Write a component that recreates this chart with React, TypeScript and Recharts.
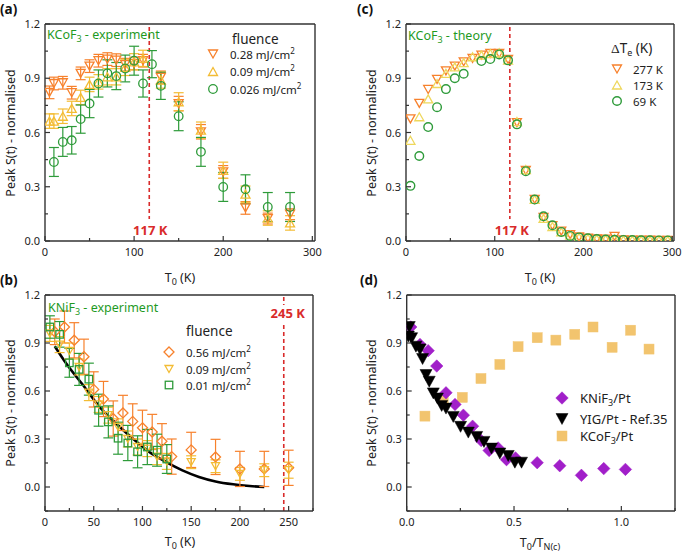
import React from 'react';
import { ComposedChart, Scatter, Line, XAxis, YAxis, ErrorBar, ReferenceLine } from 'recharts';

const FONT = '"Noto Sans", "DejaVu Sans", sans-serif';
const ORANGE = '#F7812C';
const YELLOW = '#F3BC34';
const PALE_YELLOW = '#EED75C';
const GREEN = '#2E9B3A';
const TEXT_GREEN = '#1F9A1F';
const RED = '#D92B2B';
const PURPLE = '#A11FC9';
const TAN = '#F2C46E';
const AXIS = '#333';
const INK = '#222';

// ---------- Panel (a): KCoF3 experiment ----------
const aT028 = [5, 10, 20, 30, 40, 50, 60, 70, 80, 90, 100, 110, 130, 150, 175, 200, 225, 250, 275];
const aS028 = [0.822, 0.871, 0.875, 0.82, 0.927, 0.967, 0.997, 1.006, 1.0, 0.975, 0.982, 0.997, 0.905, 0.76, 0.604, 0.382, 0.183, 0.124, 0.148];
const aE028 = [0.035, 0.035, 0.035, 0.035, 0.035, 0.035, 0.035, 0.035, 0.035, 0.035, 0.035, 0.035, 0.035, 0.04, 0.04, 0.035, 0.035, 0.03, 0.03];
const aT009 = [5, 10, 20, 30, 40, 50, 60, 70, 80, 90, 100, 110, 130, 150, 175, 200, 225, 250, 275];
const aS009 = [0.663, 0.663, 0.69, 0.733, 0.794, 0.866, 0.88, 0.908, 0.908, 0.96, 0.991, 1.01, 0.89, 0.77, 0.613, 0.391, 0.259, 0.127, 0.1];
const aE009 = [0.04, 0.04, 0.04, 0.04, 0.04, 0.04, 0.04, 0.045, 0.045, 0.045, 0.045, 0.045, 0.045, 0.05, 0.045, 0.045, 0.045, 0.04, 0.04];
const aT0026 = [10, 20, 30, 40, 50, 60, 70, 80, 90, 100, 110, 120, 130, 150, 175, 200, 225, 250, 275];
const aS0026 = [0.437, 0.548, 0.557, 0.674, 0.76, 0.871, 0.927, 0.912, 0.954, 0.997, 0.871, 0.978, 0.858, 0.69, 0.493, 0.299, 0.286, 0.188, 0.188];
const aE0026 = [0.08, 0.08, 0.076, 0.078, 0.078, 0.075, 0.075, 0.075, 0.074, 0.08, 0.075, 0.075, 0.075, 0.08, 0.08, 0.08, 0.08, 0.08, 0.08];

// ---------- Panel (c): KCoF3 theory ----------
const cT = [5, 15, 25, 35, 45, 55, 65, 75, 85, 95, 105, 115, 125, 135, 145, 155, 165, 175, 185, 195, 205, 215, 225, 235, 245, 255, 265, 275, 285, 295];
const c277 = [0.675, 0.761, 0.838, 0.894, 0.941, 0.967, 0.991, 1.01, 1.028, 1.037, 1.037, 1.004, 0.655, 0.39, 0.23, 0.13, 0.085, 0.055, 0.035, 0.022, 0.016, 0.012, 0.01, 0.026, 0.006, 0.005, 0.005, 0.005, 0.004, 0.004];
const c173 = [0.557, 0.687, 0.786, 0.871, 0.927, 0.963, 0.986, 1.019, 1.028, 1.037, 1.041, 1.0, 0.66, 0.395, 0.23, 0.125, 0.08, 0.05, 0.033, 0.02, 0.015, 0.012, 0.01, 0.012, 0.006, 0.005, 0.005, 0.004, 0.004, 0.004];
const cT69 = [5, 15, 25, 35, 45, 55, 65, 85, 95, 105, 115, 125, 135, 145, 155, 165, 175, 185, 195, 205, 215, 225, 235, 245, 255, 265, 275, 285, 295];
const c69 = [0.305, 0.47, 0.63, 0.74, 0.84, 0.9, 0.925, 0.995, 1.006, 1.032, 0.999, 0.645, 0.386, 0.229, 0.137, 0.087, 0.05, 0.028, 0.02, 0.015, 0.011, 0.008, 0.007, 0.006, 0.005, 0.004, 0.004, 0.003, 0.003];

// ---------- Panel (b): KNiF3 experiment ----------
const bT056 = [10, 20, 30, 40, 50, 60, 70, 80, 90, 100, 110, 120, 130, 150, 175, 200, 225, 250];
const bS056 = [0.97, 1.0, 0.917, 0.814, 0.61, 0.55, 0.428, 0.463, 0.41, 0.37, 0.344, 0.286, 0.19, 0.232, 0.188, 0.113, 0.113, 0.12];
const bE056 = [0.08, 0.1, 0.11, 0.11, 0.11, 0.11, 0.11, 0.11, 0.11, 0.11, 0.11, 0.11, 0.11, 0.11, 0.11, 0.11, 0.11, 0.11];
const bT009 = [5, 15, 25, 35, 45, 55, 65, 75, 85, 95, 105, 115, 125, 150, 175, 200, 225, 250];
const bS009 = [0.96, 0.89, 0.85, 0.75, 0.59, 0.516, 0.449, 0.376, 0.3, 0.25, 0.24, 0.19, 0.16, 0.155, 0.13, 0.082, 0.105, 0.105];
const bE009 = [0.05, 0.05, 0.05, 0.05, 0.05, 0.05, 0.05, 0.05, 0.05, 0.05, 0.05, 0.05, 0.05, 0.04, 0.04, 0.04, 0.04, 0.05];
const bT001 = [5, 15, 25, 35, 45, 55, 65, 75, 85, 95, 105, 115, 125];
const bS001 = [1.0, 0.954, 0.776, 0.735, 0.674, 0.48, 0.407, 0.305, 0.275, 0.22, 0.25, 0.23, 0.175];
const bE001 = [0.07, 0.08, 0.09, 0.1, 0.1, 0.1, 0.1, 0.1, 0.11, 0.1, 0.11, 0.1, 0.09];
const bCurveT = [10, 22, 39, 56, 73, 90, 107, 124, 141, 158, 175, 193, 210, 225];
const bCurveS = [0.88, 0.77, 0.637, 0.5, 0.397, 0.303, 0.219, 0.157, 0.104, 0.063, 0.035, 0.017, 0.006, 0.0];

// ---------- Panel (d): comparison ----------
const dNiX = [0.019, 0.062, 0.1, 0.14, 0.183, 0.225, 0.264, 0.307, 0.347, 0.384, 0.426, 0.465, 0.507, 0.608, 0.713, 0.814, 0.918, 1.019];
const dNiY = [1.0, 0.891, 0.852, 0.756, 0.589, 0.516, 0.449, 0.38, 0.29, 0.228, 0.244, 0.171, 0.182, 0.152, 0.133, 0.073, 0.115, 0.11];
const dYigX = [0.008, 0.012, 0.023, 0.043, 0.062, 0.074, 0.09, 0.105, 0.124, 0.143, 0.163, 0.183, 0.217, 0.251, 0.287, 0.326, 0.36, 0.395, 0.434, 0.473, 0.504, 0.535];
const dYigY = [0.94, 1.0, 0.93, 0.877, 0.86, 0.8, 0.7, 0.658, 0.585, 0.553, 0.507, 0.49, 0.438, 0.376, 0.34, 0.313, 0.282, 0.24, 0.209, 0.194, 0.152, 0.152];
const dCoX = [0.085, 0.17, 0.259, 0.346, 0.434, 0.519, 0.608, 0.695, 0.783, 0.868, 0.957, 1.043, 1.129];
const dCoY = [0.443, 0.553, 0.56, 0.678, 0.766, 0.877, 0.933, 0.918, 0.954, 1.0, 0.873, 0.98, 0.862];

// ---------- ticks ----------
const yTicksA = [0, 0.15, 0.3, 0.45, 0.6, 0.75, 0.9, 1.05, 1.2];
const yTicksB = [-0.15, 0, 0.15, 0.3, 0.45, 0.6, 0.75, 0.9, 1.05, 1.2];
const yMajor = [0, 0.3, 0.6, 0.9, 1.2];
const xTicksA = [0, 50, 100, 150, 200, 250, 300];
const xMajorA = [0, 100, 200, 300];
const xTicksB = [0, 25, 50, 75, 100, 125, 150, 175, 200, 225, 250, 275];
const xMajorB = [0, 50, 100, 150, 200, 250];
const xTicksD = [0, 0.25, 0.5, 0.75, 1.0, 1.25];
const xMajorD = [0, 0.5, 1.0];

const pts = (xs: number[], ys: number[], es?: number[]) =>
  xs.map((x, i) => ({ x, y: ys[i], e: es ? es[i] : 0 }));

const isIn = (arr: number[], v: number) => arr.some((m) => Math.abs(m - v) < 1e-6);

// ---------- marker shapes ----------
const triDown = (cx: number, cy: number, w: number, h: number, color: string, fill: string, sw: number) => (
  <polygon points={`${cx - w / 2},${cy - h / 2} ${cx + w / 2},${cy - h / 2} ${cx},${cy + h / 2}`} fill={fill} stroke={color} strokeWidth={sw} />
);
const triUp = (cx: number, cy: number, w: number, h: number, color: string, fill: string, sw: number) => (
  <polygon points={`${cx - w / 2},${cy + h / 2} ${cx + w / 2},${cy + h / 2} ${cx},${cy - h / 2}`} fill={fill} stroke={color} strokeWidth={sw} />
);
const circ = (cx: number, cy: number, r: number, color: string, fill: string, sw: number) => (
  <circle cx={cx} cy={cy} r={r} fill={fill} stroke={color} strokeWidth={sw} />
);
const diamond = (cx: number, cy: number, s: number, color: string, fill: string, sw: number) => (
  <polygon points={`${cx},${cy - s / 2} ${cx + s / 2},${cy} ${cx},${cy + s / 2} ${cx - s / 2},${cy}`} fill={fill} stroke={color} strokeWidth={sw} />
);
const square = (cx: number, cy: number, s: number, color: string, fill: string, sw: number) => (
  <rect x={cx - s / 2} y={cy - s / 2} width={s} height={s} fill={fill} stroke={color} strokeWidth={sw} />
);

// ---------- ticks renderers ----------
const makeYTick = (majors: number[]) => (props: any) => {
  const { x, y, payload } = props;
  const v = payload.value;
  const major = isIn(majors, v);
  return (
    <g>
      <line x1={x} x2={x + (major ? 5 : 3)} y1={y} y2={y} stroke={AXIS} strokeWidth={1.2} />
      {major && (
        <text x={x - 5} y={y + 4} textAnchor="end" fontSize={11} fill={INK} fontFamily={FONT}>
          {v.toFixed(1)}
        </text>
      )}
    </g>
  );
};
const makeXTick = (majors: number[], fmt: (v: number) => string) => (props: any) => {
  const { x, y, payload } = props;
  const v = payload.value;
  const major = isIn(majors, v);
  return (
    <g>
      <line x1={x} x2={x} y1={y} y2={y - (major ? 5 : 3)} stroke={AXIS} strokeWidth={1.2} />
      {major && (
        <text x={x} y={y + 15} textAnchor="middle" fontSize={11} fill={INK} fontFamily={FONT}>
          {fmt(v)}
        </text>
      )}
    </g>
  );
};

const refLabel = (text: string, pos: 'top' | 'bottom', dx: number) => (props: any) => {
  const vb = props.viewBox || { x: 0, y: 0, width: 0, height: 0 };
  const lx = vb.x + dx;
  if (pos === 'bottom') {
    const bottom = vb.y + vb.height;
    return (
      <g>
        <rect x={lx - 20} y={bottom - 22} width={40} height={24} fill="#fff" />
        <text x={lx} y={bottom - 6.5} textAnchor="middle" fontWeight="bold" fontSize={13} fill={RED} fontFamily={FONT}>
          {text}
        </text>
      </g>
    );
  }
  const top = vb.y;
  return (
    <g>
      <rect x={lx - 19} y={top + 10} width={38} height={17} fill="#fff" />
      <text x={lx} y={top + 23} textAnchor="middle" fontWeight="bold" fontSize={13} fill={RED} fontFamily={FONT}>
        {text}
      </text>
    </g>
  );
};

function frameAxes() {
  return [
    <XAxis key="tx" xAxisId="t" orientation="top" type="number" domain={[0, 1]} height={1} tick={false} tickLine={false} axisLine={{ stroke: AXIS, strokeWidth: 1.4 }} />,
    <YAxis key="ry" yAxisId="r" orientation="right" type="number" domain={[0, 1]} width={1} tick={false} tickLine={false} axisLine={{ stroke: AXIS, strokeWidth: 1.4 }} />,
  ];
}

const axisLineStyle = { stroke: AXIS, strokeWidth: 1.4 };

function ChartA() {
  return (
    <ComposedChart width={345} height={275} margin={{ top: 23, right: 29, bottom: 33, left: 44 }} style={{ fontFamily: FONT }}>
      <XAxis dataKey="x" type="number" domain={[0, 303]} allowDataOverflow ticks={xTicksA} interval={0} height={1} tickSize={0} tickMargin={0} tickLine={false} axisLine={axisLineStyle} tick={makeXTick(xMajorA, (v) => String(v))} />
      <YAxis dataKey="y" type="number" domain={[0, 1.2]} allowDataOverflow ticks={yTicksA} interval={0} width={1} tickSize={0} tickMargin={0} tickLine={false} axisLine={axisLineStyle} tick={makeYTick(yMajor)} />
      {frameAxes()}
      <ReferenceLine x={117} stroke={RED} strokeWidth={1.6} strokeDasharray="4 3" label={refLabel('117 K', 'bottom', 1)} />
      <Scatter data={pts(aT028, aS028, aE028)} dataKey="y" isAnimationActive={false} shape={(p: any) => triDown(p.cx, p.cy, 9, 8, ORANGE, 'none', 1.3)}>
        <ErrorBar dataKey="e" direction="y" width={5} stroke={ORANGE} strokeWidth={1.2} />
      </Scatter>
      <Scatter data={pts(aT009, aS009, aE009)} dataKey="y" isAnimationActive={false} shape={(p: any) => triUp(p.cx, p.cy, 9, 8, YELLOW, 'none', 1.3)}>
        <ErrorBar dataKey="e" direction="y" width={5} stroke={YELLOW} strokeWidth={1.2} />
      </Scatter>
      <Scatter data={pts(aT0026, aS0026, aE0026)} dataKey="y" isAnimationActive={false} shape={(p: any) => circ(p.cx, p.cy, 4.3, GREEN, 'none', 1.3)}>
        <ErrorBar dataKey="e" direction="y" width={5} stroke={GREEN} strokeWidth={1.2} />
      </Scatter>
    </ComposedChart>
  );
}

function ChartC() {
  return (
    <ComposedChart width={345} height={275} margin={{ top: 23, right: 10, bottom: 33, left: 65 }} style={{ fontFamily: FONT }}>
      <XAxis dataKey="x" type="number" domain={[0, 302]} allowDataOverflow ticks={xTicksA} interval={0} height={1} tickSize={0} tickMargin={0} tickLine={false} axisLine={axisLineStyle} tick={makeXTick(xMajorA, (v) => String(v))} />
      <YAxis dataKey="y" type="number" domain={[0, 1.2]} allowDataOverflow ticks={yTicksA} interval={0} width={1} tickSize={0} tickMargin={0} tickLine={false} axisLine={axisLineStyle} tick={makeYTick(yMajor)} />
      {frameAxes()}
      <ReferenceLine x={117} stroke={RED} strokeWidth={1.6} strokeDasharray="4 3" label={refLabel('117 K', 'bottom', 2)} />
      <Scatter data={pts(cT, c277)} dataKey="y" isAnimationActive={false} shape={(p: any) => triDown(p.cx, p.cy, 9, 8, ORANGE, 'none', 1.3)} />
      <Scatter data={pts(cT, c173)} dataKey="y" isAnimationActive={false} shape={(p: any) => triUp(p.cx, p.cy, 9, 8, PALE_YELLOW, 'none', 1.3)} />
      <Scatter data={pts(cT69, c69)} dataKey="y" isAnimationActive={false} shape={(p: any) => circ(p.cx, p.cy, 4.3, GREEN, 'none', 1.4)} />
    </ComposedChart>
  );
}

function ChartB() {
  return (
    <ComposedChart width={345} height={279} margin={{ top: 19, right: 31, bottom: 42, left: 44 }} style={{ fontFamily: FONT }}>
      <XAxis dataKey="x" type="number" domain={[0, 275]} allowDataOverflow ticks={xTicksB} interval={0} height={1} tickSize={0} tickMargin={0} tickLine={false} axisLine={axisLineStyle} tick={makeXTick(xMajorB, (v) => String(v))} />
      <YAxis dataKey="y" type="number" domain={[-0.15, 1.2]} allowDataOverflow ticks={yTicksB} interval={0} width={1} tickSize={0} tickMargin={0} tickLine={false} axisLine={axisLineStyle} tick={makeYTick(yMajor)} />
      {frameAxes()}
      <ReferenceLine x={245} stroke={RED} strokeWidth={1.6} strokeDasharray="4 3" label={refLabel('245 K', 'top', 4)} />
      <Line data={pts(bCurveT, bCurveS)} dataKey="y" type="monotone" stroke="#000" strokeWidth={2.6} dot={false} isAnimationActive={false} />
      <Scatter data={pts(bT056, bS056, bE056)} dataKey="y" isAnimationActive={false} shape={(p: any) => diamond(p.cx, p.cy, 10, ORANGE, 'none', 1.3)}>
        <ErrorBar dataKey="e" direction="y" width={5} stroke={ORANGE} strokeWidth={1.2} />
      </Scatter>
      <Scatter data={pts(bT009, bS009, bE009)} dataKey="y" isAnimationActive={false} shape={(p: any) => triDown(p.cx, p.cy, 8, 7, YELLOW, 'none', 1.3)}>
        <ErrorBar dataKey="e" direction="y" width={5} stroke={YELLOW} strokeWidth={1.2} />
      </Scatter>
      <Scatter data={pts(bT001, bS001, bE001)} dataKey="y" isAnimationActive={false} shape={(p: any) => square(p.cx, p.cy, 7.5, GREEN, 'none', 1.3)}>
        <ErrorBar dataKey="e" direction="y" width={5} stroke={GREEN} strokeWidth={1.2} />
      </Scatter>
    </ComposedChart>
  );
}

function ChartD() {
  return (
    <ComposedChart width={345} height={279} margin={{ top: 19, right: 9, bottom: 42, left: 65.7 }} style={{ fontFamily: FONT }}>
      <XAxis dataKey="x" type="number" domain={[0, 1.25]} allowDataOverflow ticks={xTicksD} interval={0} height={1} tickSize={0} tickMargin={0} tickLine={false} axisLine={axisLineStyle} tick={makeXTick(xMajorD, (v) => v.toFixed(1))} />
      <YAxis dataKey="y" type="number" domain={[-0.15, 1.2]} allowDataOverflow ticks={yTicksB} interval={0} width={1} tickSize={0} tickMargin={0} tickLine={false} axisLine={axisLineStyle} tick={makeYTick(yMajor)} />
      {frameAxes()}
      <Scatter data={pts(dCoX, dCoY)} dataKey="y" isAnimationActive={false} shape={(p: any) => square(p.cx, p.cy, 10, TAN, TAN, 0.5)} />
      <Scatter data={pts(dNiX, dNiY)} dataKey="y" isAnimationActive={false} shape={(p: any) => diamond(p.cx, p.cy, 12.5, PURPLE, PURPLE, 0.5)} />
      <Scatter data={pts(dYigX, dYigY)} dataKey="y" isAnimationActive={false} shape={(p: any) => triDown(p.cx, p.cy, 12, 11, '#000', '#000', 0.5)} />
    </ComposedChart>
  );
}

const T0 = (x: number, y: number) => (
  <text x={x} y={y} textAnchor="middle" fontSize={12.5} fill={INK} fontFamily={FONT}>
    T<tspan fontSize={9} dy={3}>0</tspan>
    <tspan dy={-3}> (K)</tspan>
  </text>
);

const YTitle = ({ cx, cy }: { cx: number; cy: number }) => (
  <text x={cx} y={cy} transform={`rotate(-90 ${cx} ${cy})`} textAnchor="middle" dominantBaseline="central" fontSize={12.5} fill={INK} fontFamily={FONT}>
    Peak S(t) - normalised
  </text>
);

const LegText = ({ x, y, children, size = 11.5 }: any) => (
  <text x={x} y={y} fontSize={size} fill={INK} fontFamily={FONT}>
    {children}
  </text>
);

const mJ = (v: string) => (
  <>
    {v} mJ/cm<tspan fontSize={8} dy={-5}>2</tspan>
  </>
);

function Overlay() {
  return (
    <svg width={685} height={554} style={{ position: 'absolute', left: 0, top: 0, pointerEvents: 'none' }}>
      {/* panel letters */}
      <text x={0} y={13.5} fontWeight="bold" fontSize={13.5} fill="#111" fontFamily={FONT}>(a)</text>
      <text x={357} y={13.5} fontWeight="bold" fontSize={13.5} fill="#111" fontFamily={FONT}>(c)</text>
      <text x={0} y={285} fontWeight="bold" fontSize={13.5} fill="#111" fontFamily={FONT}>(b)</text>
      <text x={360} y={285} fontWeight="bold" fontSize={13.5} fill="#111" fontFamily={FONT}>(d)</text>

      {/* axis titles */}
      <YTitle cx={10} cy={133} />
      <YTitle cx={371.5} cy={133} />
      <YTitle cx={10} cy={403} />
      <YTitle cx={371.5} cy={403} />
      {T0(180, 282)}
      {T0(540, 282)}
      {T0(180, 546)}
      <text x={540} y={547} textAnchor="middle" fontSize={12.5} fill={INK} fontFamily={FONT}>
        T<tspan fontSize={9} dy={3}>0</tspan>
        <tspan dy={-3}>/T</tspan>
        <tspan fontSize={9} dy={3}>N(c)</tspan>
      </text>

      {/* green titles */}
      <text x={47} y={38.5} fontSize={12.5} fill={TEXT_GREEN} fontFamily={FONT}>
        KCoF<tspan fontSize={9} dy={3}>3</tspan>
        <tspan dy={-3}> - experiment</tspan>
      </text>
      <text x={408} y={40} fontSize={12.5} fill={TEXT_GREEN} fontFamily={FONT}>
        KCoF<tspan fontSize={9} dy={3}>3</tspan>
        <tspan dy={-3}> - theory</tspan>
      </text>
      <text x={48} y={312} fontSize={12.5} fill={TEXT_GREEN} fontFamily={FONT}>
        KNiF<tspan fontSize={9} dy={3}>3</tspan>
        <tspan dy={-3}> - experiment</tspan>
      </text>

      {/* legend (a) */}
      <LegText x={232} y={44} size={13.5}>fluence</LegText>
      {triDown(213, 54, 9, 8, ORANGE, 'none', 1.3)}
      {triUp(213, 71.5, 9, 8, YELLOW, 'none', 1.3)}
      {circ(213, 89, 4.3, GREEN, 'none', 1.3)}
      <LegText x={230} y={58.5}>{mJ('0.28')}</LegText>
      <LegText x={230} y={76}>{mJ('0.09')}</LegText>
      <LegText x={230} y={93.5}>{mJ('0.026')}</LegText>

      {/* legend (c) */}
      <text x={611} y={53} fontSize={13.5} fill={INK} fontFamily={FONT}>
        <tspan fontFamily='"Liberation Serif", serif'>Δ</tspan>T<tspan fontSize={9} dy={3}>e</tspan>
        <tspan dy={-3}> (K)</tspan>
      </text>
      {triDown(617, 69, 9, 8, ORANGE, 'none', 1.3)}
      {triUp(617, 85, 9, 8, PALE_YELLOW, 'none', 1.3)}
      {circ(617, 101, 4.3, GREEN, 'none', 1.4)}
      <LegText x={633} y={73.5}>277 K</LegText>
      <LegText x={633} y={89.5}>173 K</LegText>
      <LegText x={633} y={105.5}>69 K</LegText>

      {/* legend (b) */}
      <LegText x={186} y={336} size={13.5}>fluence</LegText>
      {diamond(169, 352, 10, ORANGE, 'none', 1.3)}
      {triDown(169, 369, 8, 7, YELLOW, 'none', 1.3)}
      {square(169, 385, 7.5, GREEN, 'none', 1.3)}
      <LegText x={186} y={356.5}>{mJ('0.56')}</LegText>
      <LegText x={186} y={373.5}>{mJ('0.09')}</LegText>
      <LegText x={186} y={389.5}>{mJ('0.01')}</LegText>

      {/* legend (d) */}
      {diamond(562, 398, 12.5, PURPLE, PURPLE, 0.5)}
      {triDown(562, 419, 12, 11, '#000', '#000', 0.5)}
      {square(562, 436, 10, TAN, TAN, 0.5)}
      <text x={580} y={402.5} fontSize={13} fill={INK} fontFamily={FONT}>
        KNiF<tspan fontSize={9} dy={3}>3</tspan>
        <tspan dy={-3}>/Pt</tspan>
      </text>
      <text x={580} y={423.5} fontSize={13} fill={INK} fontFamily={FONT}>YIG/Pt - Ref.35</text>
      <text x={580} y={440.5} fontSize={13} fill={INK} fontFamily={FONT}>
        KCoF<tspan fontSize={9} dy={3}>3</tspan>
        <tspan dy={-3}>/Pt</tspan>
      </text>
    </svg>
  );
}

export default function App() {
  return (
    <div style={{ position: 'absolute', left: 0, top: 0, width: 685, height: 554, background: '#fff', fontFamily: FONT, overflow: 'hidden' }}>
      <div style={{ position: 'absolute', left: 0, top: 0 }}>
        <ChartA />
      </div>
      <div style={{ position: 'absolute', left: 340, top: 0 }}>
        <ChartC />
      </div>
      <div style={{ position: 'absolute', left: 0, top: 275 }}>
        <ChartB />
      </div>
      <div style={{ position: 'absolute', left: 340, top: 275 }}>
        <ChartD />
      </div>
      <Overlay />
    </div>
  );
}
